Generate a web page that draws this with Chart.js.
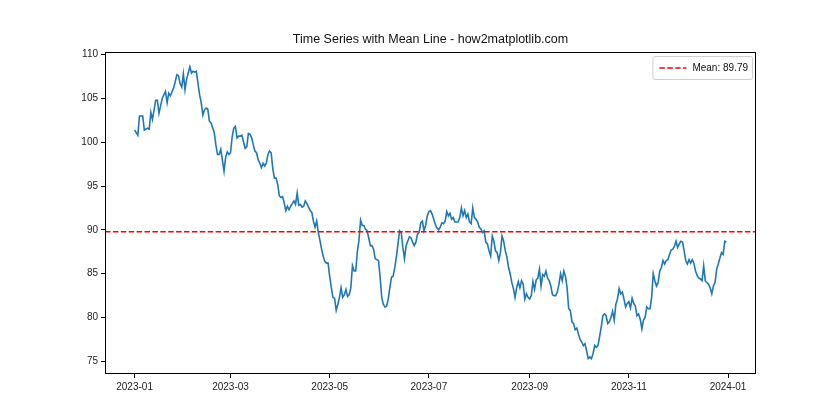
<!DOCTYPE html>
<html lang="en">
<head>
<meta charset="UTF-8">
<title>Time Series with Mean Line</title>
<script src="https://cdn.jsdelivr.net/npm/chart.js"></script>
<style>
  body { margin: 0; background: #fff; }
</style>
</head>
<body>
<canvas id="tsChart" width="840" height="420"></canvas>
<script>
// daily values from 2023-01-01 (index = day of year), null where not read
const dailyValues = [
  101.4, null, 100.8, 103.0, null, 103.0, 101.4, null, 101.6, 101.5,
  103.4, 102.6, null, 104.8, 104.8, 103.3, null, 105.0, 105.4, 105.8,
  104.5, 105.6, 105.3, null, 106.2, 106.9, 107.7, 107.6, 106.7, 106.3,
  107.8, 106.0, 107.2, 107.9, 108.6, 107.9, 108.1, 108.0, 108.1, 106.7,
  105.4, 104.5, 103.1, 103.7, 103.9, 103.8, 102.4, 102.2, null, 101.1,
  99.7, 98.6, 98.6, 99.2, 98.0, 96.7, 98.3, 98.9, 98.6, 98.8,
  100.6, 101.6, 101.8, 100.5, 100.7, 100.7, 100.8, null, 99.3, 99.5,
  101.0, 100.9, 100.5, 99.7, 99.0, 98.8, 98.0, 97.6, 97.1, 97.6,
  97.3, 97.6, 98.6, 99.0, 98.8, 97.0, 95.9, 95.9, 95.2, 93.9,
  93.7, 93.8, 93.1, 92.2, 92.7, 92.3, 92.7, 93.0, 93.3, 92.9,
  94.2, 92.8, 92.9, 92.6, 92.7, 93.3, 93.0, 92.6, 92.2, 92.0,
  91.0, 90.3, 91.0, 89.7, 88.8, 87.8, 87.0, 86.4, 86.2, 86.2,
  84.7, 83.4, 82.3, 82.2, 80.8, 81.5, 82.3, 83.4, 82.3, 82.6,
  83.2, 82.4, 82.6, 83.4, 85.9, 85.3, 85.3, 87.5, 88.8, 91.1,
  90.5, 90.5, 90.1, 89.9, 89.1, 88.2, 88.2, 87.8, 86.7, 86.6,
  86.5, 84.6, 82.3, 81.5, 81.2, 81.3, 82.1, 83.4, 84.6, 84.7,
  85.7, 86.9, 88.4, 89.9, 89.7, 88.0, 86.7, 88.2, 88.7, 89.2,
  89.1, 88.6, 88.2, 88.6, 89.5, 89.7, 90.8, 91.0, 89.9, 90.5,
  91.6, 92.1, 92.2, 91.8, 91.2, 90.6, 90.2, 90.0, 90.3, 90.8,
  90.7, 91.0, 92.1, 91.6, 91.9, 91.2, 91.4, 90.9, 90.9, 90.9,
  91.4, 92.5, 91.6, 92.2, 91.4, 91.8, 90.9, 90.7, 92.5, 91.4,
  91.2, 90.9, 90.3, 90.1, 89.7, 89.9, 88.6, 88.4, 87.6, 87.0,
  89.3, 88.7, 87.6, 87.4, 86.5, 87.4, 89.3, 88.7, 87.6, 86.9,
  85.7, 85.0, 84.0, 83.3, 82.3, 83.4, 84.1, 83.4, 84.2, 83.8,
  82.1, 82.7, 82.3, 82.1, 82.5, 84.1, 83.2, 84.3, 84.5, 85.5,
  83.6, 84.9, 84.7, 85.3, 84.5, 84.2, 83.6, 82.6, 82.5, 82.5,
  82.9, 83.8, 85.0, 84.2, 85.3, 84.7, 83.4, 81.0, 80.8, 79.5,
  79.3, 78.6, 78.8, 78.1, 77.5, 77.2, 76.8, 77.0, 76.2, 75.3,
  75.5, 75.3, 75.9, 76.8, 76.6, 76.8, 77.8, 78.9, 80.2, 80.4,
  80.2, 79.3, 79.5, 80.0, 80.7, 79.7, 81.5, 82.1, 83.3, 82.7,
  82.9, 82.1, 81.2, 81.6, 81.8, 81.1, 82.2, 81.6, 81.3, 80.2,
  80.4, 79.8, 78.7, 79.7, 80.0, 81.2, 81.0, 81.0, 82.3, 85.0,
  84.2, 83.6, 84.0, 85.3, 85.7, 86.5, 86.1, 86.5, 86.6, 87.2,
  87.7, 87.8, 88.1, 88.7, 88.0, 88.4, 88.7, 88.6, 87.6, 86.5,
  86.1, 86.6, 86.2, 86.6, 86.2, 85.3, 84.8, 84.5, 84.4, 84.2,
  85.9, 84.2, 84.0, 83.8, 83.4, 82.7, 83.6, 84.0, 85.5, 86.1,
  86.8, 87.4, 87.2, 88.7, 88.6
];
const meanValue = 89.79;

// x ticks: day of year -> label
const xTickDays = [0, 59, 120, 181, 243, 304, 365];
const xTickLabels = ['2023-01', '2023-03', '2023-05', '2023-07', '2023-09', '2023-11', '2024-01'];
const yTicks = [75, 80, 85, 90, 95, 100, 105, 110];

const xMin = -18.2, xMax = 382.2;
const yMin = 73.55, yMax = 110.3;

const FONT = '"Liberation Sans", Arial, sans-serif';

const seriesPoints = [];
dailyValues.forEach((v, i) => {
  if (v !== null) seriesPoints.push({ x: i, y: v });
});

// frame on all four sides + matplotlib style legend inside the axes
const mplExtras = {
  id: 'mplExtras',
  afterDraw(chart) {
    const ctx = chart.ctx, a = chart.chartArea;
    ctx.save();
    ctx.strokeStyle = '#000';
    ctx.lineWidth = 1;
    ctx.strokeRect(Math.round(a.left) + 0.5, Math.round(a.top) + 0.5,
                   Math.round(a.right - a.left) - 1, Math.round(a.bottom - a.top) - 1);

    const label = 'Mean: ' + meanValue.toFixed(2);
    ctx.font = '10px ' + FONT;
    const tw = ctx.measureText(label).width;
    const w = tw + 44, h = 23;
    const x = a.right - 4 - w, y = a.top + 4;
    ctx.beginPath();
    ctx.roundRect(x + 0.5, y + 0.5, w, h, 2);
    ctx.fillStyle = 'rgba(255,255,255,0.8)';
    ctx.fill();
    ctx.strokeStyle = '#d0d0d0';
    ctx.stroke();

    ctx.beginPath();
    ctx.setLineDash([5.5, 2.4]);
    ctx.strokeStyle = 'red';
    ctx.lineWidth = 1.5;
    ctx.moveTo(x + 7, y + h / 2 + 0.5);
    ctx.lineTo(x + 34, y + h / 2 + 0.5);
    ctx.stroke();
    ctx.setLineDash([]);

    ctx.fillStyle = '#111';
    ctx.textBaseline = 'middle';
    ctx.fillText(label, x + 40, y + h / 2 + 1);
    ctx.restore();
  }
};

new Chart(document.getElementById('tsChart'), {
  type: 'line',
  data: {
    datasets: [
      {
        label: 'Mean: ' + meanValue.toFixed(2),
        data: [{ x: xMin, y: meanValue }, { x: xMax, y: meanValue }],
        borderColor: 'red',
        borderWidth: 1.5,
        borderDash: [5.5, 2.4],
        pointRadius: 0,
        fill: false
      },
      {
        label: 'Series',
        data: seriesPoints,
        borderColor: '#1f77b4',
        borderWidth: 1.6,
        pointRadius: 0,
        tension: 0,
        spanGaps: true,
        fill: false
      }
    ]
  },
  options: {
    responsive: false,
    animation: false,
    layout: { padding: { left: 60, right: 84, top: 0, bottom: 18 } },
    plugins: {
      legend: { display: false },
      tooltip: { enabled: false },
      title: {
        display: true,
        text: 'Time Series with Mean Line - how2matplotlib.com',
        fullSize: false,
        color: '#111',
        font: { family: FONT, size: 12.5, weight: 'normal' },
        padding: { top: 32, bottom: 5 }
      }
    },
    scales: {
      x: {
        type: 'linear',
        min: xMin,
        max: xMax,
        grid: { drawOnChartArea: false, drawTicks: true, tickLength: 4, color: '#000' },
        border: { display: false },
        ticks: {
          color: '#222',
          font: { family: FONT, size: 10 },
          padding: 3,
          maxRotation: 0,
          autoSkip: false,
          callback: (v) => xTickLabels[xTickDays.indexOf(v)]
        },
        afterBuildTicks: (s) => { s.ticks = xTickDays.map(v => ({ value: v })); },
        afterFit: (s) => { s.height = 28; }
      },
      y: {
        min: yMin,
        max: yMax,
        grid: { drawOnChartArea: false, drawTicks: true, tickLength: 4, color: '#000' },
        border: { display: false },
        ticks: {
          color: '#222',
          font: { family: FONT, size: 10 },
          padding: 3
        },
        afterBuildTicks: (s) => { s.ticks = yTicks.map(v => ({ value: v })); },
        afterFit: (s) => { s.width = 45; }
      }
    }
  },
  plugins: [mplExtras]
});
</script>
</body>
</html>
